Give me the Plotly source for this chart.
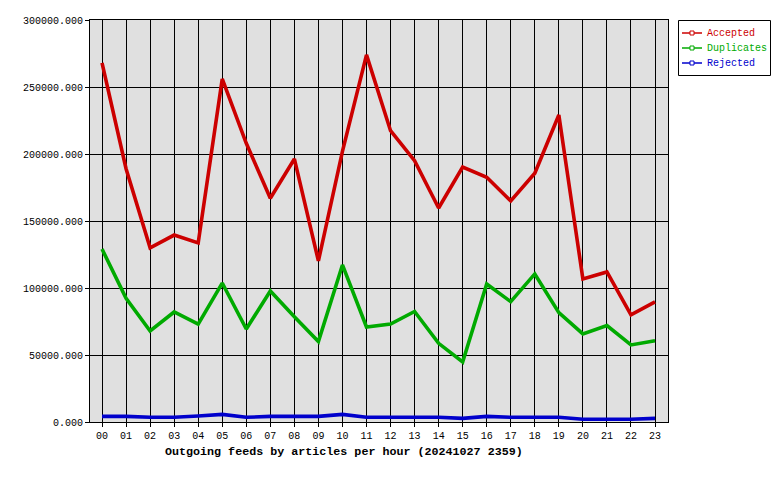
import plotly.graph_objects as go

hours = ["00","01","02","03","04","05","06","07","08","09","10","11",
         "12","13","14","15","16","17","18","19","20","21","22","23"]
accepted = [268000, 189000, 130000, 139500, 133600, 256000, 208000, 167000,
            196300, 120200, 202000, 274000, 217400, 195000, 159700, 190300,
            182600, 165000, 185600, 229100, 106700, 112000, 79900, 89600]
duplicates = [129100, 92300, 67900, 82100, 73100, 103700, 69400, 97800,
              78500, 60100, 117200, 70900, 73100, 82500, 58700, 44800,
              103000, 89800, 110500, 81600, 65700, 72000, 57500, 60700]
rejected = [4200, 4200, 3500, 3500, 4500, 5700, 3500, 4200,
            4200, 4200, 5700, 3500, 3500, 3500, 3500, 2700,
            4200, 3500, 3500, 3500, 2000, 2000, 2000, 2700]
series_names = ["Accepted", "Duplicates", "Rejected"]
series_colors = ["#cc0000", "#00aa00", "#0000cc"]
title_text = "Outgoing feeds by articles per hour (20241027 2359)"

MONO = "Liberation Mono, DejaVu Sans Mono, monospace"

# plot area in pixels
L, R, T, B = 90, 668, 20, 422
W, H = R - L, B - T
def px(x):
    return (x - L) / W
def py(y):
    return (B - y) / H

fig = go.Figure()
for name, vals, col in zip(series_names, [accepted, duplicates, rejected], series_colors):
    fig.add_trace(go.Scatter(x=hours, y=vals, mode="lines", name=name, showlegend=False,
                             line=dict(color=col, width=3.6)))

shapes = []
annotations = []
# legend box
shapes.append(dict(type="rect", xref="paper", yref="paper",
                   x0=px(678.5), x1=px(770.5), y0=py(75.5), y1=py(20.5),
                   line=dict(color="black", width=1), fillcolor="white", layer="above"))
for i, (name, col) in enumerate(zip(series_names, series_colors)):
    yc = 33 + 15 * i
    shapes.append(dict(type="line", xref="paper", yref="paper",
                       x0=px(682), x1=px(702), y0=py(yc), y1=py(yc),
                       line=dict(color=col, width=1.5), layer="above"))
    shapes.append(dict(type="rect", xref="paper", yref="paper",
                       x0=px(690), x1=px(694), y0=py(yc + 2), y1=py(yc - 2),
                       line=dict(color=col, width=1), fillcolor="white", layer="above"))
    annotations.append(dict(text=name, x=px(705), y=py(yc), xref="paper", yref="paper",
                            xanchor="left", yanchor="middle", showarrow=False,
                            font=dict(family=MONO, size=10, color=col)))

annotations.append(dict(text=f"<b>{title_text}</b>", x=px(163), y=py(452),
                        xref="paper", yref="paper", xanchor="left", yanchor="middle",
                        showarrow=False, font=dict(family=MONO, size=11.7, color="black")))

fig.update_layout(
    width=780, height=480,
    margin=dict(l=L, r=780 - R, t=T, b=480 - B, autoexpand=False),
    paper_bgcolor="white", plot_bgcolor="#e0e0e0",
    font=dict(family=MONO, size=10, color="black"),
    showlegend=False,
    shapes=shapes,
    annotations=annotations,
)
fig.update_xaxes(type="category", range=[-0.5, 23.54], showgrid=True,
                 gridcolor="black", gridwidth=1, showline=True, linecolor="black",
                 linewidth=1, mirror=True, ticks="outside", ticklen=4,
                 tickcolor="black", tickfont=dict(family=MONO, size=10))
fig.update_yaxes(range=[0, 300000], tickvals=[0, 50000, 100000, 150000, 200000, 250000, 300000],
                 tickformat=".3f", showgrid=True, gridcolor="black", gridwidth=1,
                 showline=True, linecolor="black", linewidth=1, mirror=True,
                 ticks="outside", ticklen=4, tickcolor="black", zeroline=False,
                 tickfont=dict(family=MONO, size=10))

fig.write_html("out.html")
